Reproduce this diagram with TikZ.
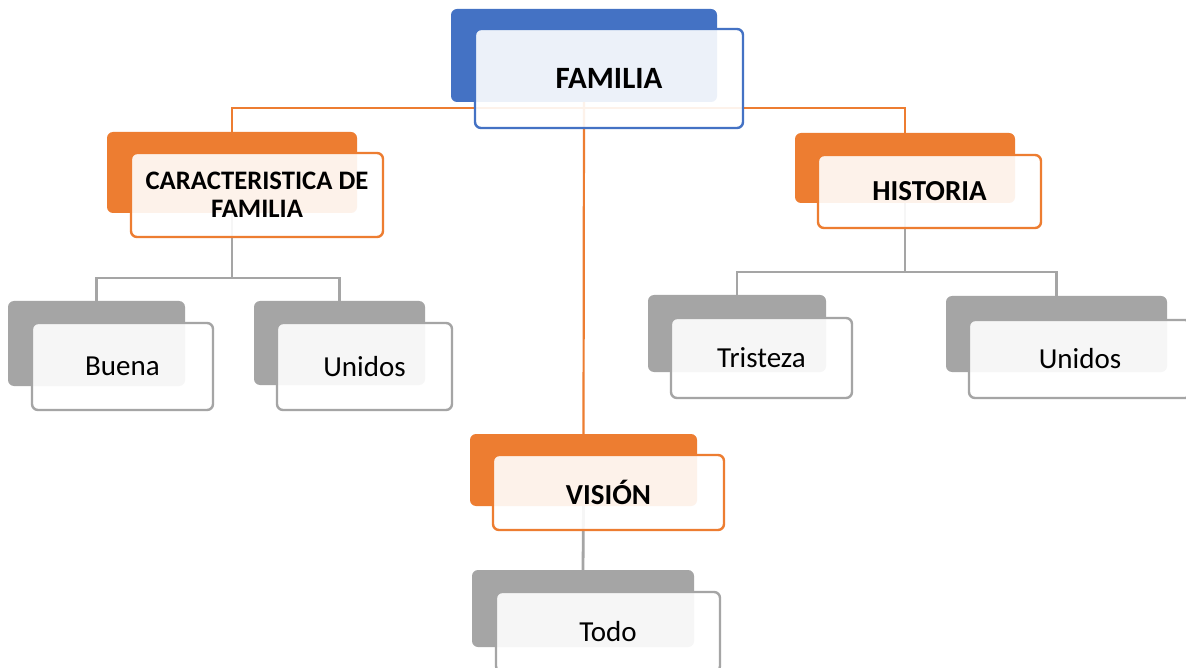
\documentclass[tikz,border=0pt]{standalone}
\usepackage{fontspec}
\setmainfont{Carlito}
\definecolor{cblue}{HTML}{4472C4}
\definecolor{corange}{HTML}{ED7D31}
\definecolor{cgrey}{HTML}{A5A5A5}
\begin{document}
\begin{tikzpicture}[x=1pt,y=-1pt,
  box/.style={rectangle,rounded corners=6pt,inner sep=0pt},
  backbox/.style={box,fill=#1},
  frontbox/.style={box,draw=#1,line width=2.4pt,fill=white,fill opacity=0.9,text opacity=1,align=center},
  hlink/.style={corange,line width=2.2pt},
  glink/.style={cgrey,line width=2.8pt},
  lvlone/.style={font=\bfseries\fontsize{29}{34}\selectfont},
  leaf/.style={font=\fontsize{29}{33}\selectfont}]
\useasboundingbox (0,0) rectangle (1186,668);
\fill[white] (0,0) rectangle (1186,668);
% coordinates for junctions
\coordinate (j0) at (584,108);
\coordinate (j1) at (232,278);
\coordinate (j2) at (905,272);
% back boxes
\node[backbox=cblue,minimum width=266pt,minimum height=93pt] (fb) at (584,55.5) {};
\node[backbox=corange,minimum width=250pt,minimum height=81pt] (cb) at (232,172.5) {};
\node[backbox=corange,minimum width=220pt,minimum height=70pt] (hb) at (905,168) {};
\node[backbox=corange,minimum width=227pt,minimum height=72pt] (vb) at (583.5,470) {};
\node[backbox=cgrey,minimum width=177pt,minimum height=85pt] (bb) at (96.5,343.5) {};
\node[backbox=cgrey,minimum width=171pt,minimum height=84pt] (ub) at (339.5,343) {};
\node[backbox=cgrey,minimum width=178pt,minimum height=77pt] (tb) at (737,333.5) {};
\node[backbox=cgrey,minimum width=221pt,minimum height=76pt] (u2b) at (1056.5,334) {};
\node[backbox=cgrey,minimum width=222pt,minimum height=77pt] (ob) at (583,608.5) {};
% connectors
\draw[hlink] (cb.north) |- (j0) -| (hb.north);
\draw[hlink] (fb.south) -- (vb.north);
\draw[glink] (cb.south) -- (j1);
\draw[glink] (bb.north) |- (j1) -| (ub.north);
\draw[glink] (hb.south) -- (j2);
\draw[glink] (tb.north) |- (j2) -| (u2b.north);
\draw[glink] (vb.south) -- (ob.north);
% front boxes
\node[frontbox=cblue,minimum width=268pt,minimum height=99pt,font=\bfseries\fontsize{31}{36}\selectfont] (ff) at (609,78.5) {FAMILIA};
\node[frontbox=corange,minimum width=252pt,minimum height=84pt,font=\bfseries\fontsize{26.7}{28}\selectfont] (cf) at (257,195) {CARACTERISTICA DE\\FAMILIA};
\node[frontbox=corange,minimum width=223pt,minimum height=73pt,lvlone] (hf) at (929.5,191.5) {HISTORIA};
\node[frontbox=corange,minimum width=231pt,minimum height=75pt,lvlone] (vf) at (608.5,492.5) {VISIÓN};
\node[frontbox=cgrey,minimum width=181pt,minimum height=87pt,leaf] (bf) at (122.5,366.5) {Buena};
\node[frontbox=cgrey,minimum width=175pt,minimum height=87pt,leaf] (uf) at (364.5,366.5) {Unidos};
\node[frontbox=cgrey,minimum width=181pt,minimum height=80pt,leaf] (tf) at (761.5,358) {Tristeza};
\node[frontbox=cgrey,minimum width=222pt,minimum height=78pt,leaf] (u2f) at (1080,359) {Unidos};
\node[frontbox=cgrey,minimum width=224pt,minimum height=80pt,leaf] (of) at (608,632) {Todo};
\end{tikzpicture}
\end{document}
